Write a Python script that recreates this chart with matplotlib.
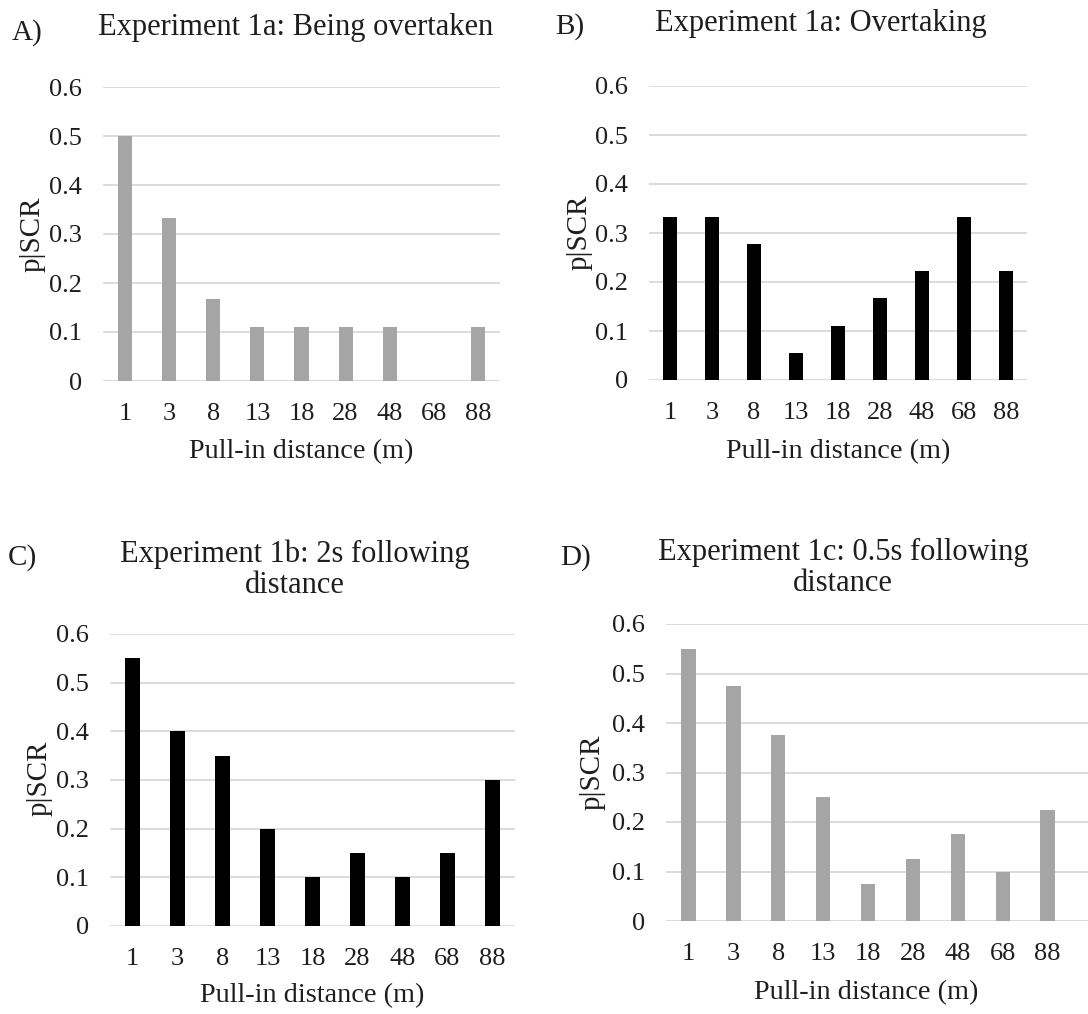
import matplotlib
matplotlib.use("Agg")
import numpy as np
import matplotlib.pyplot as plt

plt.rcParams['font.family'] = ['Liberation Serif', 'DejaVu Serif']

distances = ['1', '3', '8', '13', '18', '28', '48', '68', '88']

# p|SCR per pull-in distance
being_overtaken = [0.5, 0.333, 0.167, 0.111, 0.111, 0.111, 0.111, 0.0, 0.111]
overtaking = [0.333, 0.333, 0.278, 0.056, 0.111, 0.167, 0.222, 0.333, 0.222]
following_2s = [0.55, 0.40, 0.35, 0.20, 0.10, 0.15, 0.10, 0.15, 0.30]
following_05s = [0.55, 0.475, 0.375, 0.25, 0.075, 0.125, 0.175, 0.10, 0.225]

W, H = 1088, 1014
GRAY = '#a5a5a5'
GRID = '#d9d9d9'
INK = '#1e1e1e'

fig = plt.figure(figsize=(W / 100, H / 100), dpi=100)


def fx(px):
    return px / W


def fy(py):
    return 1 - py / H


def panel(box, values, color, letter, letter_xy, title, title_xy,
          ylab_xy, xlab_xy, xmax=8.5):
    left, top, right, bottom = box
    ax = fig.add_axes([fx(left), fy(bottom), fx(right - left), (bottom - top) / H])
    x = np.arange(len(distances))
    ax.bar(x, values, width=0.32, color=color, zorder=3)
    ax.set_xlim(-0.5, xmax)
    ax.set_ylim(0, 0.6)
    ax.set_yticks([0, 0.1, 0.2, 0.3, 0.4, 0.5, 0.6])
    ax.set_yticklabels(['0', '0.1', '0.2', '0.3', '0.4', '0.5', '0.6'])
    ax.set_xticks(x)
    ax.set_xticklabels(distances)
    ax.tick_params(length=0, labelsize=19, colors=INK)
    ax.tick_params(axis='x', pad=16)
    ax.tick_params(axis='y', pad=15)
    ax.yaxis.grid(True, color=GRID, linewidth=1.3, zorder=0)
    for s in ax.spines.values():
        s.set_visible(False)
    fig.text(fx(xlab_xy[0]), fy(xlab_xy[1]), 'Pull-in distance (m)', fontsize=20.3,
             ha='center', va='center', color=INK)
    fig.text(fx(ylab_xy[0]), fy(ylab_xy[1]), 'p|SCR', rotation=90, fontsize=21,
             ha='center', va='center', color=INK)
    fig.text(fx(letter_xy[0]), fy(letter_xy[1]), letter, fontsize=21,
             ha='left', va='center', color=INK)
    fig.text(fx(title_xy[0]), fy(title_xy[1]), title, fontsize=22, ha='center',
             va='center', linespacing=1.1, color=INK)
    return ax


panel((103, 87, 500, 381), being_overtaken, GRAY, 'A)', (12, 33),
      'Experiment 1a: Being overtaken', (296, 27), (33, 234), (301, 452))
panel((649, 86, 1027, 380), overtaking, 'black', 'B)', (555, 27),
      'Experiment 1a: Overtaking', (821, 24), (580, 232), (838, 452))
panel((110, 634, 515, 926), following_2s, 'black', 'C)', (8, 558),
      'Experiment 1b: 2s following\ndistance', (295, 570), (40, 778), (312, 996))
panel((666, 624, 1088, 921), following_05s, GRAY, 'D)', (560, 558),
      'Experiment 1c: 0.5s following\ndistance', (843, 568), (593, 772), (866, 993),
      xmax=-0.5 + 422 / 44.9)

fig.savefig('out.png', dpi=100)
